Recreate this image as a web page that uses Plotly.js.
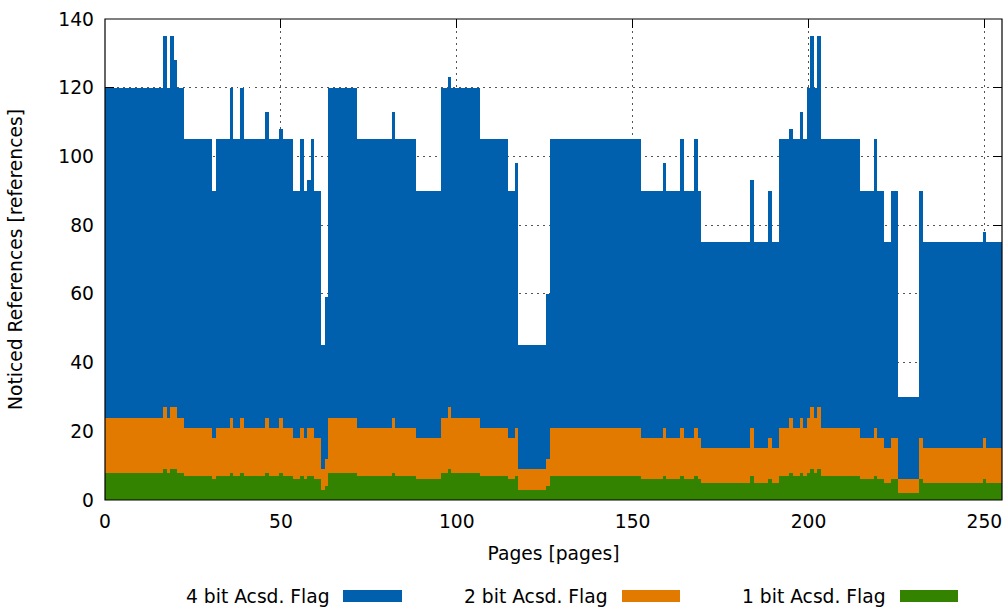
<!DOCTYPE html>
<html>
<head>
<meta charset="utf-8">
<script src="https://cdn.plot.ly/plotly-3.0.1.min.js"></script>
<style>
  html, body { margin: 0; padding: 0; background: #ffffff; }
  #chart { width: 1008px; height: 607px; }
</style>
</head>
<body>
<div id="chart"></div>
<script>
// Noticed references per page, 4 bit accessed flag (256 pages, 0..255)
var flag4 = [
  120,120,120,120,120,120,120,120,120,120,120,120,120,120,120,120,
  120,135,120,135,128,120,120,105,105,105,105,105,105,105,105,90,
  105,105,105,105,120,105,105,120,105,105,105,105,105,105,113,105,
  105,105,108,105,105,105,90,90,105,90,93,105,90,90,45,59,
  120,120,120,120,120,120,120,120,105,105,105,105,105,105,105,105,
  105,105,113,105,105,105,105,105,105,90,90,90,90,90,90,90,
  120,120,123,120,120,120,120,120,120,120,120,105,105,105,105,105,
  105,105,105,90,90,98,45,45,45,45,45,45,45,45,60,105,
  105,105,105,105,105,105,105,105,105,105,105,105,105,105,105,105,
  105,105,105,105,105,105,105,105,105,90,90,90,90,90,90,98,
  90,90,90,90,105,90,90,90,105,90,75,75,75,75,75,75,
  75,75,75,75,75,75,75,75,93,75,75,75,75,90,75,75,
  105,105,105,108,105,105,113,105,120,135,120,135,105,105,105,105,
  105,105,105,105,105,105,105,90,90,90,90,105,90,90,75,75,
  90,90,30,30,30,30,30,30,90,75,75,75,75,75,75,75,
  75,75,75,75,75,75,75,75,75,75,78,75,75,75,75,75
];

// Noticed references per page, 2 bit accessed flag
var flag2 = [
  24,24,24,24,24,24,24,24,24,24,24,24,24,24,24,24,
  24,27,24,27,27,24,24,21,21,21,21,21,21,21,21,18,
  21,21,21,21,24,21,21,24,21,21,21,21,21,21,24,21,
  21,21,24,21,21,21,18,18,21,18,21,21,18,18,9,12,
  24,24,24,24,24,24,24,24,21,21,21,21,21,21,21,21,
  21,21,24,21,21,21,21,21,21,18,18,18,18,18,18,18,
  24,24,27,24,24,24,24,24,24,24,24,21,21,21,21,21,
  21,21,21,18,18,21,9,9,9,9,9,9,9,9,12,21,
  21,21,21,21,21,21,21,21,21,21,21,21,21,21,21,21,
  21,21,21,21,21,21,21,21,21,18,18,18,18,18,18,21,
  18,18,18,18,21,18,18,18,21,18,15,15,15,15,15,15,
  15,15,15,15,15,15,15,15,21,15,15,15,15,18,15,15,
  21,21,21,24,21,21,24,21,24,27,24,27,21,21,21,21,
  21,21,21,21,21,21,21,18,18,18,18,21,18,18,15,15,
  18,18,6,6,6,6,6,6,18,15,15,15,15,15,15,15,
  15,15,15,15,15,15,15,15,15,15,18,15,15,15,15,15
];

// Noticed references per page, 1 bit accessed flag
var flag1 = [
  8,8,8,8,8,8,8,8,8,8,8,8,8,8,8,8,
  8,9,8,9,9,8,8,7,7,7,7,7,7,7,7,6,
  7,7,7,7,8,7,7,8,7,7,7,7,7,7,8,7,
  7,7,8,7,7,7,6,6,7,6,7,7,6,6,3,4,
  8,8,8,8,8,8,8,8,7,7,7,7,7,7,7,7,
  7,7,8,7,7,7,7,7,7,6,6,6,6,6,6,6,
  8,8,9,8,8,8,8,8,8,8,8,7,7,7,7,7,
  7,7,7,6,6,7,3,3,3,3,3,3,3,3,4,7,
  7,7,7,7,7,7,7,7,7,7,7,7,7,7,7,7,
  7,7,7,7,7,7,7,7,7,6,6,6,6,6,6,7,
  6,6,6,6,7,6,6,6,7,6,5,5,5,5,5,5,
  5,5,5,5,5,5,5,5,7,5,5,5,5,6,5,5,
  7,7,7,8,7,7,8,7,8,9,8,9,7,7,7,7,
  7,7,7,7,7,7,7,6,6,6,6,7,6,6,5,5,
  6,6,2,2,2,2,2,2,6,5,5,5,5,5,5,5,
  5,5,5,5,5,5,5,5,5,5,6,5,5,5,5,5
];

var pages = flag4.map(function (_, i) { return i; });

var seriesNames = ['4 bit Acsd. Flag', '2 bit Acsd. Flag', '1 bit Acsd. Flag'];
var seriesColors = ['#0060ad', '#e27a00', '#338300'];
var seriesData = [flag4, flag2, flag1];

var FONT = 'DejaVu Sans, Liberation Sans, sans-serif';
var FS = 18.7;

var traces = seriesData.map(function (vals, k) {
  return {
    type: 'bar',
    x: pages,
    y: vals,
    name: seriesNames[k],
    width: 1,
    marker: { color: seriesColors[k], line: { width: 0 } },
    showlegend: false,
    hoverinfo: 'x+y+name'
  };
});

// plot area geometry in pixels (for custom gnuplot-style key)
var M = { l: 105, r: 6, t: 19, b: 107 };
var PW = 1008 - M.l - M.r, PH = 607 - M.t - M.b;
function px2x(px) { return (px - M.l) / PW; }
function py2y(py) { return (607 - M.b - py) / PH; }

var keyTextRight = [332, 610, 888];
var keySwatch = [[343, 402], [622, 680], [900, 958]];
var annotations = [];
var shapes = [];
for (var k = 0; k < 3; k++) {
  annotations.push({
    xref: 'paper', yref: 'paper',
    x: px2x(keyTextRight[k]), y: py2y(596),
    xanchor: 'right', yanchor: 'middle',
    text: seriesNames[k], showarrow: false,
    font: { family: FONT, size: FS, color: '#000000' }
  });
  shapes.push({
    type: 'rect', xref: 'paper', yref: 'paper',
    x0: px2x(keySwatch[k][0]), x1: px2x(keySwatch[k][1]),
    y0: py2y(590), y1: py2y(602),
    fillcolor: seriesColors[k], line: { width: 0 }
  });
}
// plot border on top of the bars
shapes.push({
  type: 'rect', xref: 'paper', yref: 'paper', x0: 0, x1: 1, y0: 0, y1: 1,
  line: { color: '#000000', width: 1.2 }, fillcolor: 'rgba(0,0,0,0)', layer: 'above'
});

var layout = {
  width: 1008, height: 607,
  margin: M,
  paper_bgcolor: '#ffffff', plot_bgcolor: '#ffffff',
  barmode: 'overlay', bargap: 0,
  font: { family: FONT, size: FS, color: '#000000' },
  xaxis: {
    range: [0, 255], dtick: 50, tick0: 0,
    showgrid: true, gridcolor: '#555555', gridwidth: 1, griddash: '1.5px,4.5px',
    zeroline: false, showline: false,
    ticks: 'inside', ticklen: 9, tickwidth: 1, tickcolor: '#000000', mirror: 'ticks',
    ticklabelstandoff: 8,
    layer: 'below traces',
    tickfont: { family: FONT, size: FS, color: '#000000' },
    title: { text: 'Pages [pages]', font: { family: FONT, size: FS, color: '#000000' }, standoff: 16 }
  },
  yaxis: {
    range: [0, 140], dtick: 20, tick0: 0,
    showgrid: true, gridcolor: '#555555', gridwidth: 1, griddash: '1.5px,4.5px',
    zeroline: false, showline: false,
    ticks: 'inside', ticklen: 9, tickwidth: 1, tickcolor: '#000000', mirror: 'ticks',
    ticklabelstandoff: 10,
    layer: 'below traces',
    tickfont: { family: FONT, size: FS, color: '#000000' },
    title: { text: 'Noticed References [references]', font: { family: FONT, size: FS, color: '#000000' }, standoff: 30 }
  },
  annotations: annotations,
  shapes: shapes
};

Plotly.newPlot('chart', traces, layout, { displayModeBar: false, staticPlot: true });
</script>
</body>
</html>
